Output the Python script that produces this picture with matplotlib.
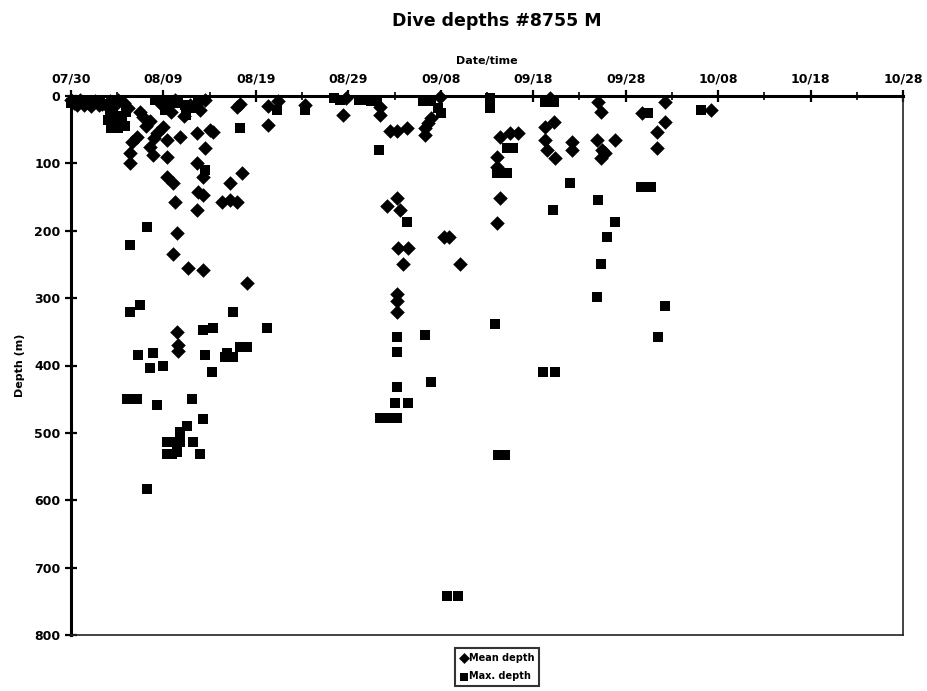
import matplotlib
matplotlib.use("Agg")
import matplotlib.pyplot as plt
from matplotlib.ticker import FixedLocator, MultipleLocator

# ---- data (day offset from 07/30, depth in m) ----
tick_days = [0, 10, 20, 30, 40, 50, 60, 70, 80, 90]
tick_labels = ["07/30", "08/09", "08/19", "08/29", "09/08", "09/18", "09/28", "10/08", "10/18", "10/28"]
depth_ticks = [0, 100, 200, 300, 400, 500, 600, 700, 800]

mean_day = [0.0, 0.3, 1.0, 1.8, 2.6, 3.4, 4.2, 5.1, 5.7, 6.2, 0.7, 1.4, 2.2, 3.0, 3.8, 4.6,
            6.6, 6.4, 6.4, 7.1,
            7.5, 7.8, 8.5, 9.3, 10.0, 10.4, 8.5, 8.9, 10.4, 10.4, 11.0, 11.3, 11.5, 11.0, 12.7, 14.3,
            13.6, 13.7, 14.3, 13.6, 14.3, 14.5, 13.6, 15.0, 15.4, 11.8, 16.3, 17.2, 18.0, 17.2, 18.5, 19.0,
            14.5, 14.0, 12.9, 11.3, 9.6, 18.0, 18.3, 8.1, 9.0, 12.2, 10.8,
            11.5, 11.6, 11.6,
            21.3, 21.3, 22.4, 25.3, 29.7, 29.4, 33.4, 33.4, 34.5, 35.3, 36.4, 35.3, 34.2, 35.6,
            35.4, 36.5, 35.9, 35.3, 35.3, 35.3, 38.9, 38.6, 38.3, 38.3, 40.4, 40.9, 42.1, 39.9,
            46.4, 47.5, 48.3, 46.1, 46.1, 46.4, 46.1, 52.2, 51.3, 51.3, 51.5, 52.4, 54.2, 54.2,
            57.0, 57.3, 56.9, 57.4, 57.8, 57.3, 58.9, 61.8, 64.3, 64.3, 63.4, 63.4, 69.2, 51.8]
mean_depth = [6, 10, 6, 10, 7, 12, 7, 6, 10, 18, 14, 13, 15, 13, 14, 15,
              68, 84, 99, 61,
              24, 31, 37, 55, 46, 65, 76, 87, 90, 120, 129, 157, 203, 235, 255, 258,
              169, 142, 147, 99, 120, 77, 55, 50, 53, 61, 157, 154, 157, 129, 114, 277,
              6, 21, 13, 6, 10, 16, 12, 44, 62, 30, 24,
              351, 369, 379,
              15, 43, 7, 13, 3, 28, 16, 28, 52, 52, 47, 151, 164, 169,
              225, 225, 249, 294, 305, 321, 33, 40, 47, 58, 209, 209, 249, 2,
              61, 55, 55, 90, 105, 151, 188, 38, 46, 65, 80, 92, 68, 80,
              9, 24, 65, 80, 84, 92, 65, 25, 9, 38, 53, 77, 21, 3]

max_day = [0.0, 0.5, 1.4, 2.3, 3.1, 3.9, 4.5, 4.0, 4.3, 5.1, 5.5, 6.0, 4.8, 5.8, 4.2, 5.2,
           9.1, 9.8, 10.7, 11.6, 12.3, 13.1, 13.7, 12.4, 10.2, 14.5, 18.3, 22.3, 25.3,
           6.4, 8.2, 6.4, 7.5, 17.5, 14.3, 15.4, 21.2, 7.3, 8.9, 14.5, 16.9, 18.3, 19.0, 17.5, 16.7,
           8.5, 10.0, 15.3, 6.1, 7.1, 9.3, 13.1, 14.3, 12.6, 11.8, 10.4, 11.0, 11.8, 13.2,
           10.4, 10.9, 11.5, 14.0, 8.2,
           28.4, 29.1, 31.1, 31.8, 32.4, 33.1, 33.3, 38.1, 38.9, 39.7, 40.0, 36.4, 35.3, 38.3,
           35.3, 35.3, 38.9, 35.1, 36.5, 33.4, 34.2, 35.3, 40.7, 41.9,
           45.3, 45.3, 47.2, 47.8, 46.1, 47.2, 45.9, 46.2, 47.0, 51.3, 52.2, 54.0, 52.1, 51.1, 52.4,
           57.0, 58.9, 58.0, 57.3, 56.9, 62.4, 61.7, 62.7, 64.3, 63.5, 68.2]
max_depth = [10, 10, 10, 10, 10, 13, 21, 36, 47, 47, 33, 24, 40, 45, 28, 30,
             6, 6, 10, 10, 13, 18, 10, 28, 21, 110, 48, 21, 21,
             221, 195, 320, 310, 321, 347, 344, 344, 384, 381, 384, 381, 373, 373, 388, 388,
             403, 401, 409, 449, 449, 458, 449, 480, 490, 499, 514, 514, 514, 514,
             532, 532, 529, 532, 584,
             3, 6, 6, 6, 7, 6, 80, 7, 7, 18, 25, 187, 358, 354,
             380, 432, 425, 455, 455, 478, 478, 478, 742, 742,
             3, 18, 77, 77, 114, 114, 339, 533, 533, 9, 9, 129, 169, 409, 409,
             154, 187, 210, 250, 298, 25, 135, 135, 312, 357, 21]

# ---- figure ----
fig = plt.figure(figsize=(9.28, 6.91), dpi=100)
ax = fig.add_axes([71/928, 1-635/691, (903-71)/928, (635-96)/691])

ax.scatter(mean_day, mean_depth, marker="D", s=55, color="black", linewidths=0,
           label="Mean depth", zorder=3, clip_on=False)
ax.scatter(max_day, max_depth, marker="s", s=60, color="black", linewidths=0,
           label="Max. depth", zorder=3, clip_on=False)

ax.set_xlim(0, 90)
ax.set_ylim(800, 0)

ax.xaxis.set_major_locator(FixedLocator(tick_days))
ax.set_xticks(tick_days)
ax.set_xticklabels(tick_labels)
ax.xaxis.set_minor_locator(MultipleLocator(5))
ax.set_yticks(depth_ticks)
ax.set_yticklabels([str(v) for v in depth_ticks])

ax.xaxis.tick_top()
ax.xaxis.set_label_position("top")
ax.tick_params(axis="x", which="major", direction="inout", length=9, width=1.6,
               labelsize=9, pad=3)
ax.tick_params(axis="x", which="minor", direction="inout", length=6, width=1.2)
ax.tick_params(axis="y", which="major", direction="inout", length=9, width=1.6,
               labelsize=9, pad=3)
for lab in ax.get_xticklabels() + ax.get_yticklabels():
    lab.set_fontweight("bold")

for side in ["top", "left"]:
    ax.spines[side].set_linewidth(2.2)
for side in ["bottom", "right"]:
    ax.spines[side].set_linewidth(1.2)
    ax.spines[side].set_color("#222222")

ax.set_xlabel("Date/time", fontsize=8, fontweight="bold", labelpad=6)
ax.set_ylabel("Depth (m)", fontsize=8, fontweight="bold", labelpad=7)
fig.text(0.535, 1-21/691, "Dive depths #8755 M", ha="center", va="center",
         fontsize=12.5, fontweight="bold")

leg = fig.legend(loc="center", bbox_to_anchor=(497/928, 1-667/691),
                 prop={"size": 7, "weight": "bold"}, frameon=True, fancybox=False,
                 borderpad=0.45, handletextpad=0.1, handlelength=0.8,
                 labelspacing=0.9, borderaxespad=0, markerscale=0.75)
leg.get_frame().set_edgecolor("black")
leg.get_frame().set_linewidth(1.5)

fig.savefig("out.png", dpi=100)
